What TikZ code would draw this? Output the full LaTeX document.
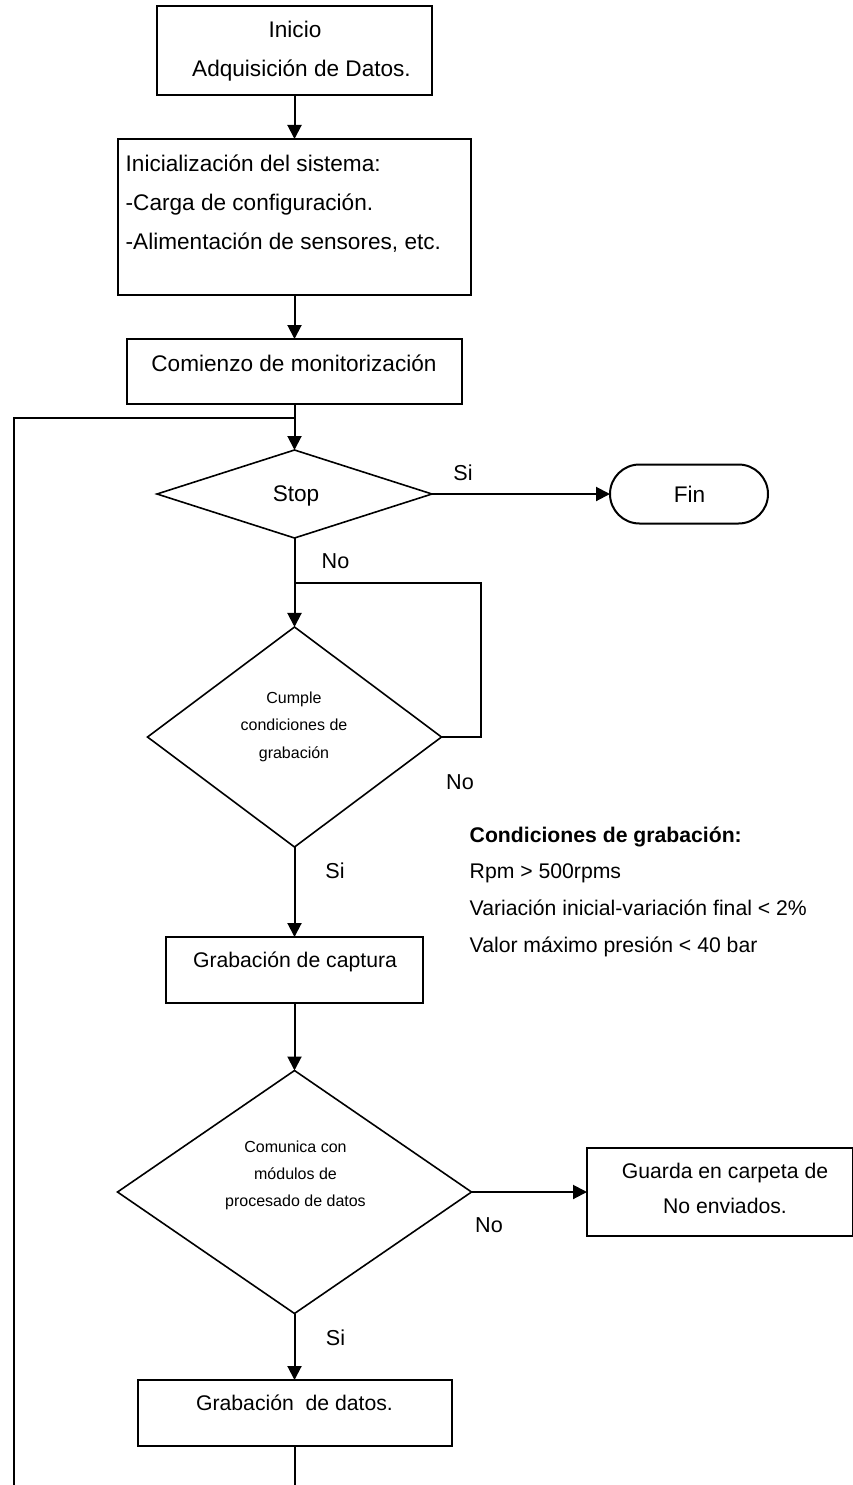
\documentclass[tikz,border=0pt]{standalone}
\usepackage{fontspec}
\setmainfont{Liberation Sans}
\usetikzlibrary{shapes.geometric, arrows.meta}

\begin{document}
\begin{tikzpicture}[x=1pt, y=-1pt,
  frame/.style={draw, line width=2pt, inner sep=0pt, outer sep=0pt},
  decision/.style={draw, diamond, line width=1.6pt, inner sep=0pt, outer sep=0pt},
  link/.style={line width=2pt},
  arrow/.style={link, -{Triangle[length=14pt, width=14pt]}},
  txtA/.style={inner sep=0pt, font=\fontsize{22.6}{27}\selectfont, anchor=base},
  txtB/.style={inner sep=0pt, font=\fontsize{21.2}{25}\selectfont, anchor=base},
  txtL/.style={inner sep=0pt, font=\fontsize{21.6}{26}\selectfont, anchor=base},
  txtS/.style={inner sep=0pt, font=\fontsize{16}{19}\selectfont, anchor=base},
]
% page area
\fill[white] (0,0) rectangle (852,1485);
\useasboundingbox (0,0) rectangle (852,1485);

% boxes and decisions
\node[frame, minimum width=275pt, minimum height=89pt] (inicio) at (294.5,50.5) {};
\node[frame, minimum width=353pt, minimum height=156pt] (init) at (294.5,217) {};
\node[frame, minimum width=335pt, minimum height=65pt] (comienzo) at (294.5,371.5) {};
\node[decision, minimum width=275pt, minimum height=88pt] (stop) at (294.5,494) {};
\node[frame, rounded corners=29.5pt, minimum width=158pt, minimum height=59pt] (fin) at (689,494) {};
\node[decision, minimum width=294pt, minimum height=220pt] (cumple) at (294.5,737) {};
\node[frame, minimum width=257pt, minimum height=66pt] (captura) at (294.5,970) {};
\node[decision, minimum width=354pt, minimum height=243pt] (comunica) at (294.5,1192) {};
\node[frame, minimum width=266pt, minimum height=88pt] (guarda) at (720,1192) {};
\node[frame, minimum width=314pt, minimum height=66pt] (datos) at (294.5,1413) {};

% helper points for the loops and open ends
\coordinate (loopR) at (481,583);
\coordinate (loopA) at (294.5,583);
\coordinate (loopT) at (294.5,418);
\coordinate (loopL) at (14,1486);
\coordinate (endB) at (294.5,1486);

% connectors
\draw[arrow] (inicio) -- (init);
\draw[arrow] (init) -- (comienzo);
\draw[arrow] (comienzo) -- (stop);
\draw[arrow] (stop) -- (fin);
\draw[arrow] (stop) -- (cumple);
\draw[link] (cumple.east) -| (loopR) -- (loopA);
\draw[arrow] (cumple) -- (captura);
\draw[arrow] (captura) -- (comunica);
\draw[arrow] (comunica) -- (guarda);
\draw[arrow] (comunica) -- (datos);
\draw[link] (datos) -- (endB);
\draw[link] (loopL) |- (loopT);

% texts
\node[txtA] (tInicio) at (295,38) {Inicio};
\node[txtA] (tAdq) at (301.5,77) {Adquisición de Datos.};
\node[txtA, anchor=base west] (tIni1) at (125.5,171) {Inicialización del sistema:};
\node[txtA, anchor=base west] (tIni2) at (125.5,210) {-Carga de configuración.};
\node[txtA, anchor=base west] (tIni3) at (125.5,249) {-Alimentación de sensores, etc.};
\node[txtA] (tCom) at (294,371) {Comienzo de monitorización};
\node[txtA] (tStop) at (296,501) {Stop};
\node[txtL] (tSi1) at (463,480) {Si};
\node[txtA] (tFin) at (689.5,502) {Fin};
\node[txtL] (tNo1) at (335.5,568) {No};
\node[txtS] (tCu1) at (294,703) {Cumple};
\node[txtS] (tCu2) at (294,730.5) {condiciones de};
\node[txtS] (tCu3) at (294,758) {grabación};
\node[txtL] (tNo2) at (460,789) {No};
\node[txtL] (tSi2) at (335,878) {Si};
\node[txtB, anchor=base west, font=\fontsize{21.2}{25}\selectfont\bfseries] (tCond) at (469.5,842) {Condiciones de grabación:};
\node[txtB, anchor=base west] (tC1) at (469.5,878) {Rpm > 500rpms};
\node[txtB, anchor=base west] (tC2) at (469.5,915) {Variación inicial-variación final < 2\%};
\node[txtB, anchor=base west] (tC3) at (469.5,952) {Valor máximo presión < 40 bar};
\node[txtB] (tCap) at (295,967) {Grabación de captura};
\node[txtS] (tCm1) at (295.5,1152) {Comunica con};
\node[txtS] (tCm2) at (295.5,1179) {módulos de};
\node[txtS] (tCm3) at (295.5,1206) {procesado de datos};
\node[txtL] (tNo3) at (489,1232) {No};
\node[txtB] (tG1) at (725,1178) {Guarda en carpeta de};
\node[txtB] (tG2) at (725,1213) {No enviados.};
\node[txtL] (tSi3) at (335.5,1345) {Si};
\node[txtB] (tDat) at (294.5,1410) {Grabación\ \ de datos.};
\end{tikzpicture}
\end{document}
